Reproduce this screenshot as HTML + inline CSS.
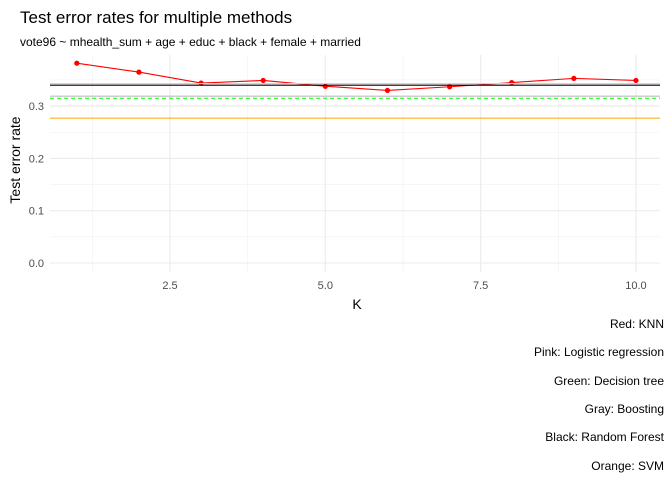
<!DOCTYPE html>
<html><head><meta charset="utf-8"><style>
body{margin:0;background:#fff;font-family:"Liberation Sans",Arial,sans-serif}
svg text{font-family:"Liberation Sans",Arial,sans-serif}
</style></head><body>
<svg id="c" width="672" height="480" xmlns="http://www.w3.org/2000/svg">
<text x="20" y="23" font-size="17" fill="#000">Test error rates for multiple methods</text>
<text x="20" y="46" font-size="12" fill="#000">vote96 ~ mhealth_sum + age + educ + black + female + married</text>
<g id="grid"></g><g id="marks"></g><g id="hlines"></g><g id="axes"></g>
<text x="357" y="309" font-size="14" text-anchor="middle">K</text>
<text transform="translate(20,160) rotate(-90)" font-size="14" text-anchor="middle">Test error rate</text>
<g font-size="12" text-anchor="end" fill="#000">
<text x="664" y="328">Red: KNN</text>
<text x="664" y="356">Pink: Logistic regression</text>
<text x="664" y="385">Green: Decision tree</text>
<text x="664" y="413">Gray: Boosting</text>
<text x="664" y="441">Black: Random Forest</text>
<text x="664" y="470">Orange: SVM</text>
</g>
</svg>
<script>
const kValues=[1,2,3,4,5,6,7,8,9,10];
const knnErrors=[0.382,0.365,0.344,0.349,0.338,0.330,0.337,0.345,0.353,0.349];
const hLineNames=["logistic","random-forest","boosting","decision-tree","svm"];
const hLineValues=[0.343,0.340,0.319,0.315,0.277];
const hLineColors=["#ffc0cb","#000000","#bebebe","#00ff00","#ffa500"];
const xTicks=[2.5,5.0,7.5,10.0];
const xTickLabels=["2.5","5.0","7.5","10.0"];
const yTicks=[0,0.1,0.2,0.3];
const yTickLabels=["0.0","0.1","0.2","0.3"];
const L=50,R=660,T=55,B=272;
const x=v=>170+(v-2.5)*62.13;
const y=v=>263-v*523;
const NS="http://www.w3.org/2000/svg";
function mk(p,tag,at){const e=document.createElementNS(NS,tag);for(const k in at)e.setAttribute(k,at[k]);p.appendChild(e);return e;}
const g=document.getElementById('grid'),m=document.getElementById('marks'),h=document.getElementById('hlines'),a=document.getElementById('axes');
[1.25,3.75,6.25,8.75].forEach(v=>{const l=mk(g,'line',{x1:x(v),x2:x(v),y1:T,y2:B,stroke:'#f0f0f0','stroke-width':0.6});

});
[0.05,0.15,0.25,0.35].forEach(v=>{const l=mk(g,'line',{x1:L,x2:R,y1:y(v),y2:y(v),stroke:'#f0f0f0','stroke-width':0.6});

});
xTicks.forEach((v,i)=>{const l=mk(g,'line',{x1:x(v),x2:x(v),y1:T,y2:B,stroke:'#ebebeb','stroke-width':1.1});


const t=mk(a,'text',{x:x(v),y:289,'font-size':11,fill:'#4d4d4d','text-anchor':'middle'});t.textContent=xTickLabels[i];

});
yTicks.forEach((v,i)=>{const l=mk(g,'line',{x1:L,x2:R,y1:y(v),y2:y(v),stroke:'#ebebeb','stroke-width':1.1});


const t=mk(a,'text',{x:44,y:y(v)+4,'font-size':11,fill:'#4d4d4d','text-anchor':'end'});t.textContent=yTickLabels[i];

});
const pl=mk(m,'polyline',{points:kValues.map((k,i)=>x(k)+','+y(knnErrors[i])).join(' '),fill:'none',stroke:'#ff0000','stroke-width':1.1});


kValues.forEach((k,i)=>{const c=mk(m,'circle',{cx:x(k),cy:y(knnErrors[i]),r:2.6,fill:'#ff0000'});

});
hLineValues.forEach((v,i)=>{const at={x1:L,x2:R,y1:y(v),y2:y(v),stroke:hLineColors[i],'stroke-width':1.1};
if(hLineNames[i]==='decision-tree')at['stroke-dasharray']='4,3';
const l=mk(h,'line',at);

});
</script>
</body></html>
